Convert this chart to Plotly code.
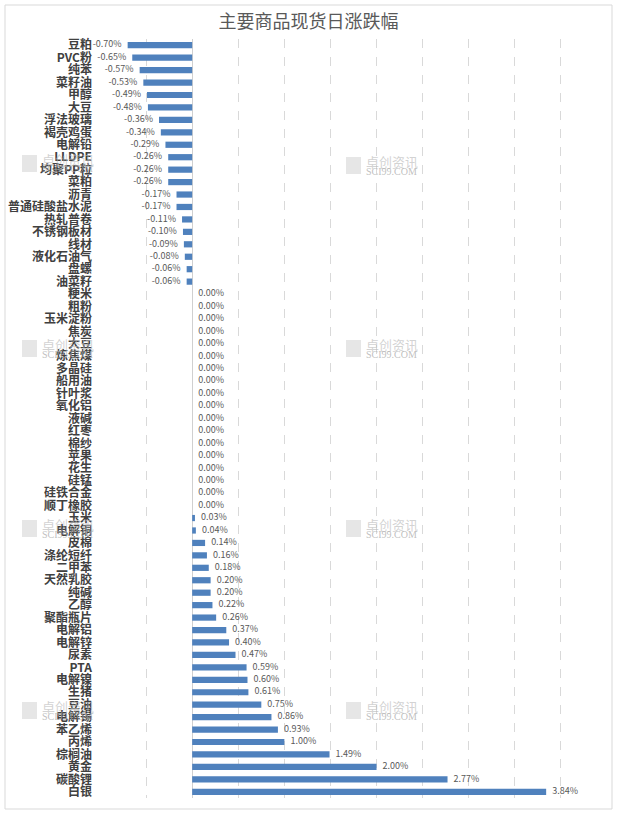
import plotly.graph_objects as go

categories = ["豆粕", "PVC粉", "纯苯", "菜籽油", "甲醇", "大豆", "浮法玻璃", "褐壳鸡蛋", "电解铅", "LLDPE",
              "均聚PP粒", "菜粕", "沥青", "普通硅酸盐水泥", "热轧普卷", "不锈钢板材", "线材", "液化石油气", "盘螺", "油菜籽",
              "粳米", "粗粉", "玉米淀粉", "焦炭", "大豆", "炼焦煤", "多晶硅", "船用油", "针叶浆", "氧化铝",
              "液碱", "红枣", "棉纱", "苹果", "花生", "硅锰", "硅铁合金", "顺丁橡胶", "玉米", "电解铜",
              "皮棉", "涤纶短纤", "二甲苯", "天然乳胶", "纯碱", "乙醇", "聚酯瓶片", "电解铝", "电解锌", "尿素",
              "PTA", "电解镍", "生猪", "豆油", "电解锡", "苯乙烯", "丙烯", "棕榈油", "黄金", "碳酸锂", "白银"]
values = [-0.70, -0.65, -0.57, -0.53, -0.49, -0.48, -0.36, -0.34, -0.29, -0.26,
          -0.26, -0.26, -0.17, -0.17, -0.11, -0.10, -0.09, -0.08, -0.06, -0.06,
          0.00, 0.00, 0.00, 0.00, 0.00, 0.00, 0.00, 0.00, 0.00, 0.00,
          0.00, 0.00, 0.00, 0.00, 0.00, 0.00, 0.00, 0.00, 0.03, 0.04,
          0.14, 0.16, 0.18, 0.20, 0.20, 0.22, 0.26, 0.37, 0.40, 0.47,
          0.59, 0.60, 0.61, 0.75, 0.86, 0.93, 1.00, 1.49, 2.00, 2.77, 3.84]

positions = list(range(len(categories)))
pad = "\u00a0\u00a0\u00a0"
labels = [f"{v:.2f}%{pad}" if v < 0 else f"{pad}{v:.2f}%" for v in values]
text_pos = ["middle left" if v < 0 else "middle right" for v in values]

fig = go.Figure()
fig.add_trace(go.Bar(
    x=values, y=positions, orientation="h",
    marker=dict(color="#4F81BD", line=dict(width=0)),
    width=0.5, hoverinfo="skip", showlegend=False,
))
fig.add_trace(go.Scatter(
    x=values, y=positions, mode="text", text=labels, textposition=text_pos,
    textfont=dict(family="Noto Sans CJK SC", size=9, color="#595959"),
    hoverinfo="skip", showlegend=False, cliponaxis=False,
))

W, H = 617, 814
L, R, T, B = 100, 10, 39, 16
pw, ph = W - L - R, H - T - B


def px(x):
    return (x - L) / pw


def py(y):
    return (H - B - y) / ph


shapes = [dict(type="rect", xref="paper", yref="paper",
               x0=px(5), x1=px(612), y0=py(809), y1=py(5),
               line=dict(color="#D9D9D9", width=1), fillcolor="rgba(0,0,0,0)", layer="below")]

annotations = []
for (wx, wy) in [(22, 158), (22, 343), (22, 523), (22, 705), (346, 160), (346, 343), (346, 523), (346, 705)]:
    shapes.append(dict(type="rect", xref="paper", yref="paper",
                       x0=px(wx), x1=px(wx + 15), y0=py(wy + 14), y1=py(wy - 3),
                       line=dict(width=0), fillcolor="rgba(200,200,200,0.45)", layer="below"))
    annotations.append(dict(xref="paper", yref="paper", x=px(wx + 18), y=py(wy + 1),
                            xanchor="left", yanchor="middle", showarrow=False,
                            text="卓创资讯", font=dict(family="Noto Sans CJK SC", size=13,
                                                   color="rgba(185,185,185,0.65)")))
    annotations.append(dict(xref="paper", yref="paper", x=px(wx + 18), y=py(wy + 11),
                            xanchor="left", yanchor="middle", showarrow=False,
                            text="SCI99.COM", font=dict(family="Liberation Serif", size=10,
                                                    color="rgba(170,170,170,0.75)")))

fig.update_layout(
    width=W, height=H,
    margin=dict(l=L, r=R, t=T, b=B, autoexpand=False),
    paper_bgcolor="white", plot_bgcolor="white",
    title=dict(text="主要商品现货日涨跌幅", x=0.5, xref="container", xanchor="center",
               y=1 - 22 / H, yref="container", yanchor="middle",
               font=dict(family="Noto Sans CJK SC", size=18, color="#595959")),
    xaxis=dict(range=[-1.0, 4.5], dtick=0.5, tick0=0, showticklabels=False,
               showgrid=True, gridcolor="#D9D9D9", griddash="dash", gridwidth=1,
               zeroline=True, zerolinecolor="#D0D0D0", zerolinewidth=1,
               showline=False, ticks="", automargin=False),
    yaxis=dict(range=[len(categories) - 0.5, -0.5], tickmode="array",
               tickvals=positions, ticktext=categories, ticks="", ticklen=0,
               showgrid=False, zeroline=False, showline=False, automargin=False,
               ticklabelstandoff=7,
               tickfont=dict(family="Noto Sans CJK SC", size=12, color="#404040", weight="bold")),
    shapes=shapes, annotations=annotations,
    bargap=0.5,
)

fig.write_html("out.html", config={"displayModeBar": False},
               post_script="document.body.style.margin='0px';")
